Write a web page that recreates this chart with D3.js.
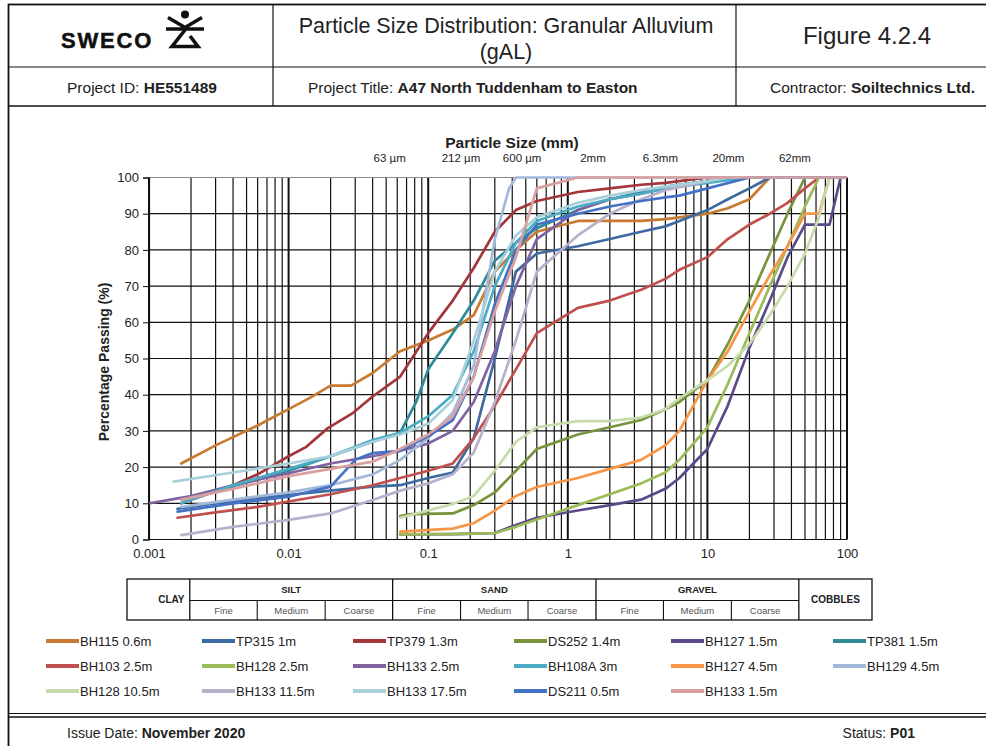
<!DOCTYPE html>
<html>
<head>
<meta charset="utf-8">
<script src="https://cdn.jsdelivr.net/npm/d3@7"></script>
<style>
  body { margin: 0; background: #fff; }
  text { font-family: "Liberation Sans", Arial, sans-serif; }
</style>
</head>
<body>
<svg id="fig" width="986" height="746"></svg>
<script>
// ---- data: [particle size (mm), % passing] ----
const bh115_06 = [[0.0017,21],[0.003,26],[0.006,31.5],[0.01,36],[0.014,39],[0.02,42.5],[0.028,42.5],[0.04,46],[0.063,52],[0.1,55],[0.15,58],[0.212,62],[0.3,74],[0.425,80],[0.6,85],[1.18,88],[2,88],[3.35,88],[5,88.5],[6.3,89],[10,90],[14,91.5],[20,94],[28,100],[100,100]];
const tp315_1 = [[0.0016,8.5],[0.003,10],[0.006,11.5],[0.01,12.3],[0.02,13.5],[0.04,14.6],[0.063,15],[0.1,17],[0.15,18.5],[0.212,28],[0.3,50],[0.425,74],[0.6,79],[1.18,81],[2,83],[3.35,85],[5,86.5],[6.3,88],[10,91],[14,94],[20,97],[28,100],[100,100]];
const tp379_13 = [[0.0017,10],[0.004,15],[0.006,18],[0.01,23],[0.0134,25.6],[0.019,30.7],[0.029,35],[0.04,39.5],[0.063,45],[0.1,57],[0.15,66],[0.212,75],[0.3,85],[0.425,91],[0.6,93.5],[1.18,96],[2,97],[3.35,98],[5,98.5],[6.3,99],[10,100],[100,100]];
const ds252_14 = [[0.063,6.5],[0.075,7],[0.15,7.2],[0.212,9.5],[0.3,13],[0.425,19],[0.6,25],[1.18,29],[2,31],[3.35,33],[5,36],[6.3,38],[10,44],[14,54],[20,66],[28,79],[37.5,90],[50,100],[100,100]];
const bh127_15 = [[0.063,1.4],[0.15,1.5],[0.212,1.6],[0.3,1.8],[0.425,4],[0.6,6],[1.18,8],[2,9.5],[3.35,11],[5,14],[6.3,17],[10,25],[14,37],[20,53],[28,66],[37.5,78],[50,87],[63,87],[75,87],[90,100],[100,100]];
const tp381_15 = [[0.0017,11],[0.003,13.5],[0.006,16.5],[0.01,19],[0.02,23],[0.04,27],[0.063,29.5],[0.082,38],[0.1,47],[0.15,57],[0.212,66],[0.3,77],[0.425,82],[0.6,86],[1.18,91],[2,94],[3.35,96],[5,97.5],[10,99],[14,100],[100,100]];
const bh103_25 = [[0.0016,6],[0.003,7.5],[0.006,9],[0.01,10.5],[0.02,12.5],[0.04,15],[0.063,17],[0.1,19],[0.15,21],[0.212,28],[0.3,37],[0.425,47],[0.6,57],[1.18,64],[2,66],[3.35,69],[5,72],[6.3,74.5],[10,78],[14,83],[20,87],[28,90],[37.5,93],[50,97],[63,100],[100,100]];
const bh128_25 = [[0.063,1.4],[0.15,1.5],[0.212,1.6],[0.3,1.8],[0.425,3.5],[0.6,5.5],[1.18,9.5],[2,12.5],[3.35,15.5],[5,18.5],[6.3,22],[10,31],[14,43],[20,57],[28,70],[37.5,81],[50,92],[63,100],[100,100]];
const bh133_25 = [[0.001,10],[0.002,12],[0.004,15],[0.006,16.5],[0.01,18.3],[0.02,21],[0.04,23],[0.063,24.5],[0.1,26.5],[0.15,30],[0.212,38],[0.3,52],[0.425,70],[0.6,83],[1.18,91],[2,94],[3.35,95.5],[5,97],[10,99],[14,100],[100,100]];
const bh108a_3 = [[0.0017,10],[0.004,15],[0.01,19.5],[0.02,23],[0.04,27.5],[0.063,29.5],[0.1,34],[0.15,40],[0.212,52],[0.3,70],[0.425,82],[0.6,88],[1.18,92],[2,94],[3.35,95.5],[5,97],[10,98.5],[20,100],[100,100]];
const bh127_45 = [[0.063,2.2],[0.15,3],[0.212,4.5],[0.3,8],[0.425,12],[0.6,14.5],[1.18,17],[2,19.5],[3.35,22],[5,26],[6.3,30],[10,44],[14,52],[20,63],[28,73],[37.5,81],[50,90],[63,90],[75,100],[100,100]];
const bh129_45 = [[0.0017,9],[0.004,11],[0.01,13],[0.02,15],[0.04,18],[0.063,22],[0.1,28],[0.15,35],[0.212,48],[0.3,83],[0.38,97],[0.425,100],[100,100]];
const bh128_105 = [[0.063,6],[0.15,9.8],[0.212,12],[0.3,19],[0.425,27],[0.6,31],[1.18,32.7],[2,32.7],[3.35,33.7],[5,36],[6.3,39],[10,44],[14,48],[20,54],[28,62],[37.5,70],[50,79],[63,89],[75,100],[100,100]];
const bh133_115 = [[0.0017,1.2],[0.004,3.5],[0.01,5.4],[0.02,7.2],[0.04,10.9],[0.063,13.5],[0.1,15.5],[0.15,18],[0.212,24],[0.3,38],[0.425,55],[0.6,74],[1.18,84],[2,90],[3.35,94],[5,96.5],[10,99],[14,100],[100,100]];
const bh133_175 = [[0.0015,16],[0.004,18.5],[0.01,21],[0.02,23],[0.04,27],[0.063,29],[0.1,32],[0.15,38.5],[0.212,55],[0.3,74],[0.425,84],[0.6,89],[1.18,93],[2,95],[3.35,96.5],[5,97.5],[10,99],[14,100],[100,100]];
const ds211_05 = [[0.0016,7.7],[0.004,10],[0.01,11.8],[0.02,14.6],[0.03,22],[0.04,23.9],[0.063,24.5],[0.1,28.5],[0.15,33],[0.212,45],[0.3,65],[0.425,80],[0.6,87],[1.18,90],[2,92],[3.35,93.5],[5,94.5],[6.3,95],[10,97],[20,100],[100,100]];
const bh133_15 = [[0.0017,11],[0.004,14],[0.01,17.5],[0.02,19.5],[0.04,21.5],[0.063,25],[0.1,29],[0.15,34],[0.212,45],[0.3,63],[0.425,78],[0.6,97],[1.18,100],[100,100]];

const seriesNames = ["BH115 0.6m","TP315 1m","TP379 1.3m","DS252 1.4m","BH127 1.5m","TP381 1.5m",
  "BH103 2.5m","BH128 2.5m","BH133 2.5m","BH108A 3m","BH127 4.5m","BH129 4.5m",
  "BH128 10.5m","BH133 11.5m","BH133 17.5m","DS211 0.5m","BH133 1.5m"];
const seriesData = [bh115_06, tp315_1, tp379_13, ds252_14, bh127_15, tp381_15,
  bh103_25, bh128_25, bh133_25, bh108a_3, bh127_45, bh129_45,
  bh128_105, bh133_115, bh133_175, ds211_05, bh133_15];
const seriesColors = ["#c77a30","#3d6aa0","#a3363b","#77933c","#5b4a8a","#2e8a97",
  "#c0504d","#9bbb59","#8064a2","#4bacc6","#f79646","#a3b9dc",
  "#c7dbac","#b8b1cc","#a9d0da","#4472c4","#d9a0a0"];

const yTicks = [0,10,20,30,40,50,60,70,80,90,100];
const xTicks = [0.001,0.01,0.1,1,10,100];
const sizeMarkLabels = ["63 \u00b5m","212 \u00b5m","600 \u00b5m","2mm","6.3mm","20mm","62mm"];
const sizeMarkValues = [0.063,0.212,0.6,2,6.3,20,62];
const classLimits = [0.002,0.0063,0.02,0.063,0.2,0.63,2,6.3,20,63];
const classMain = ["SILT","SAND","GRAVEL"];
const classSub = ["Fine","Medium","Coarse"];

// ---- layout ----
const svg = d3.select("#fig");
const x = d3.scaleLog().domain([0.001, 100]).range([149, 847]);
const y = d3.scaleLinear().domain([0, 100]).range([539.5, 177.5]);
const xc = d3.scaleLog().domain([0.001, 100]).range([149, 826]); // classification strip / size marks

// frame
const frame = svg.append("g").attr("stroke", "#111").attr("fill", "none");
frame.append("rect").attr("x", 8.5).attr("y", 4.5).attr("width", 990).attr("height", 760).attr("stroke-width", 1.8);
frame.append("line").attr("x1", 8).attr("x2", 986).attr("y1", 67).attr("y2", 67).attr("stroke-width", 1.2);
frame.append("line").attr("x1", 8).attr("x2", 986).attr("y1", 106).attr("y2", 106).attr("stroke-width", 1.5);
frame.append("line").attr("x1", 273).attr("x2", 273).attr("y1", 4).attr("y2", 106).attr("stroke-width", 1.2);
frame.append("line").attr("x1", 736).attr("x2", 736).attr("y1", 4).attr("y2", 106).attr("stroke-width", 1.2);
frame.append("line").attr("x1", 8).attr("x2", 986).attr("y1", 713.5).attr("y2", 713.5).attr("stroke-width", 1);
frame.append("line").attr("x1", 8).attr("x2", 986).attr("y1", 717).attr("y2", 717).attr("stroke-width", 1.6);

// logo
const logo = svg.append("g");
logo.append("text").attr("x", 61).attr("y", 48).attr("font-family", "DejaVu Sans").attr("font-weight", "bold")
  .attr("font-size", 22).attr("letter-spacing", 1.8).attr("fill", "#111").attr("stroke", "#111")
  .attr("stroke-width", 0.5).text("SWECO");
logo.append("circle").attr("cx", 185).attr("cy", 14.5).attr("r", 4).attr("fill", "#111");
logo.append("path").attr("d", "M168,17.5 L185,27.5 L202,17.5 M166,29 L204,29 M185,30 L172,46.5 L198,46.5 L190,36")
  .attr("fill", "none").attr("stroke", "#111").attr("stroke-width", 3.6).attr("stroke-linejoin", "miter");

// header texts
svg.append("text").attr("x", 506).attr("y", 33).attr("text-anchor", "middle").attr("font-size", 21.5)
  .attr("fill", "#222").text("Particle Size Distribution: Granular Alluvium");
svg.append("text").attr("x", 506).attr("y", 59).attr("text-anchor", "middle").attr("font-size", 21.5)
  .attr("fill", "#222").text("(gAL)");
svg.append("text").attr("x", 867).attr("y", 44).attr("text-anchor", "middle").attr("font-size", 24)
  .attr("fill", "#222").text("Figure 4.2.4");

function labelled(xp, yp, anchor, size, a, b) {
  const t = svg.append("text").attr("x", xp).attr("y", yp).attr("text-anchor", anchor)
    .attr("font-size", size).attr("fill", "#222");
  t.append("tspan").text(a);
  t.append("tspan").attr("font-weight", "bold").text(b);
}
labelled(142, 93, "middle", 15.5, "Project ID: ", "HE551489");
labelled(308, 93, "start", 15.5, "Project Title: ", "A47 North Tuddenham to Easton");
labelled(975, 93, "end", 15.5, "Contractor: ", "Soiltechnics Ltd.");
labelled(67, 738, "start", 14, "Issue Date: ", "November 2020");
labelled(915, 738, "end", 14, "Status: ", "P01");

// ---- chart grid ----
const grid = svg.append("g");
const minor = [];
for (let k = -3; k <= 1; k++) for (let m = 1; m <= 9; m++) minor.push(m * Math.pow(10, k));
minor.push(100);
grid.selectAll("line.v").data(minor).join("line")
  .attr("x1", d => x(d)).attr("x2", d => x(d)).attr("y1", y(100)).attr("y2", y(0))
  .attr("stroke", "#111")
  .attr("stroke-width", d => Math.abs(Math.log10(d) - Math.round(Math.log10(d))) < 1e-9 ? 2 : 1.2);
grid.selectAll("line.h").data(yTicks).join("line")
  .attr("x1", x(0.001)).attr("x2", x(100)).attr("y1", d => y(d)).attr("y2", d => y(d))
  .attr("stroke", d => d === 100 ? "#888" : "#111").attr("stroke-width", 1.2);

// y axis
const yAxis = svg.append("g").attr("transform", `translate(${x(0.001)},0)`)
  .call(d3.axisLeft(y).tickValues(yTicks).tickSize(6).tickPadding(4));
yAxis.select(".domain").attr("stroke", "#111").attr("stroke-width", 1.2);
yAxis.selectAll(".tick line").attr("stroke", "#111");
yAxis.selectAll(".tick text").attr("font-family", "Liberation Sans").attr("font-size", 13).attr("fill", "#222");

// x axis labels
const xAxis = svg.append("g").attr("transform", `translate(0,${y(0)})`)
  .call(d3.axisBottom(x).tickValues(xTicks).tickFormat(d3.format("~g")).tickSize(0).tickPadding(9));
xAxis.select(".domain").remove();
xAxis.selectAll(".tick text").attr("font-family", "Liberation Sans").attr("font-size", 13).attr("fill", "#222");

// titles
svg.append("text").attr("x", 512).attr("y", 148).attr("text-anchor", "middle").attr("font-weight", "bold")
  .attr("font-size", 15.5).attr("fill", "#222").text("Particle Size (mm)");
svg.append("text").attr("transform", "translate(109,362) rotate(-90)").attr("text-anchor", "middle")
  .attr("font-weight", "bold").attr("font-size", 14).attr("fill", "#222").text("Percentage Passing (%)");
svg.selectAll("text.mark").data(sizeMarkValues).join("text")
  .attr("x", d => xc(d) - 3).attr("y", 162).attr("text-anchor", "middle").attr("font-size", 11.5)
  .attr("fill", "#222").text((d, i) => sizeMarkLabels[i]);

// ---- series ----
svg.append("clipPath").attr("id", "plot").append("rect")
  .attr("x", x(0.001)).attr("y", y(100) - 2).attr("width", x(100) - x(0.001)).attr("height", y(0) - y(100) + 4);
const line = d3.line().x(d => x(d[0])).y(d => y(d[1]));
svg.append("g").attr("clip-path", "url(#plot)").selectAll("path").data(seriesData).join("path")
  .attr("d", line).attr("fill", "none").attr("stroke", (d, i) => seriesColors[i])
  .attr("stroke-width", 2.7).attr("stroke-linejoin", "round").attr("stroke-linecap", "round");

// ---- classification strip ----
const tb = { l: 127, r: 872, t: 579, m: 600.5, b: 620 };
const strip = svg.append("g").attr("stroke", "#111").attr("fill", "none");
strip.append("rect").attr("x", tb.l).attr("y", tb.t).attr("width", tb.r - tb.l).attr("height", tb.b - tb.t).attr("stroke-width", 1.3);
const mainEdges = [classLimits[0], classLimits[3], classLimits[6], classLimits[9]];
strip.selectAll("line.main").data(mainEdges).join("line")
  .attr("x1", d => xc(d)).attr("x2", d => xc(d)).attr("y1", tb.t).attr("y2", tb.b).attr("stroke-width", 1.3);
strip.append("line").attr("x1", xc(classLimits[0])).attr("x2", xc(classLimits[9]))
  .attr("y1", tb.m).attr("y2", tb.m).attr("stroke-width", 1.1);
const subEdges = [classLimits[1], classLimits[2], classLimits[4], classLimits[5], classLimits[7], classLimits[8]];
strip.selectAll("line.sub").data(subEdges).join("line")
  .attr("x1", d => xc(d)).attr("x2", d => xc(d)).attr("y1", tb.m).attr("y2", tb.b).attr("stroke-width", 1.1);

svg.append("text").attr("x", (tb.l + xc(classLimits[0])) / 2 + 13).attr("y", 603).attr("text-anchor", "middle")
  .attr("font-weight", "bold").attr("font-size", 10).attr("fill", "#222").text("CLAY");
svg.append("text").attr("x", (xc(classLimits[9]) + tb.r) / 2).attr("y", 603).attr("text-anchor", "middle")
  .attr("font-weight", "bold").attr("font-size", 10).attr("fill", "#222").text("COBBLES");
classMain.forEach((name, g) => {
  const a = classLimits[g * 3], b = classLimits[g * 3 + 3];
  svg.append("text").attr("x", (xc(a) + xc(b)) / 2).attr("y", 593).attr("text-anchor", "middle")
    .attr("font-weight", "bold").attr("font-size", 9.5).attr("fill", "#222").text(name);
  classSub.forEach((s, j) => {
    const c = classLimits[g * 3 + j], e = classLimits[g * 3 + j + 1];
    svg.append("text").attr("x", (xc(c) + xc(e)) / 2).attr("y", 613.5).attr("text-anchor", "middle")
      .attr("font-size", 9.5).attr("fill", "#555").text(s);
  });
});

// ---- legend ----
const legCols = [46, 202, 353, 514, 671, 833];
const legRows = [641, 666, 691];
const leg = svg.append("g").selectAll("g").data(seriesNames).join("g")
  .attr("transform", (d, i) => `translate(${legCols[i % 6]},${legRows[Math.floor(i / 6)]})`);
leg.append("line").attr("x1", 0).attr("x2", 33).attr("y1", 0).attr("y2", 0)
  .attr("stroke", (d, i) => seriesColors[i]).attr("stroke-width", 4);
leg.append("text").attr("x", 34).attr("y", 4.5).attr("font-size", 13).attr("fill", "#222").text(d => d);
</script>
</body>
</html>
